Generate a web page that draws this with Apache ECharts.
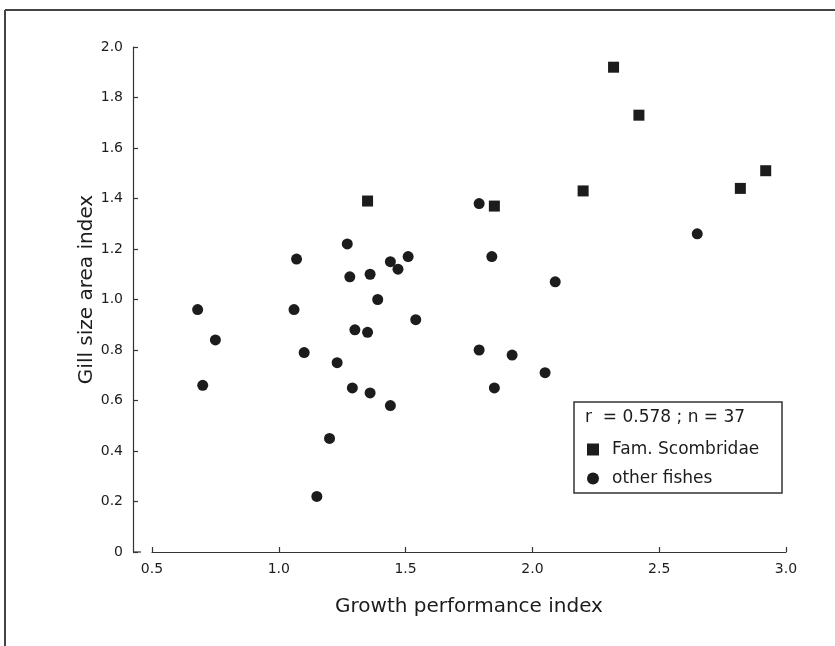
<!DOCTYPE html>
<html>
<head>
<meta charset="utf-8">
<title>Gill size vs growth performance</title>
<script src="https://cdn.jsdelivr.net/npm/echarts@6/dist/echarts.min.js"></script>
<style>
  html, body { margin: 0; padding: 0; background: #fff; }
  #chart { width: 835px; height: 646px; }
</style>
</head>
<body>
<div id="chart"></div>
<script>
// Fam. Scombridae  [growth performance, gill size area]
const scombridae = [
  [1.35, 1.39], [1.85, 1.37], [2.20, 1.43], [2.32, 1.92],
  [2.42, 1.73], [2.82, 1.44], [2.92, 1.51]
]

// other fishes
const otherFishes = [
  [0.68, 0.96], [0.75, 0.84], [0.70, 0.66],
  [1.06, 0.96], [1.07, 1.16], [1.10, 0.79], [1.15, 0.22], [1.20, 0.45],
  [1.23, 0.75], [1.27, 1.22], [1.28, 1.09], [1.29, 0.65], [1.30, 0.88],
  [1.35, 0.87], [1.36, 1.10], [1.36, 0.63], [1.39, 1.00], [1.44, 1.15],
  [1.44, 0.58], [1.47, 1.12], [1.51, 1.17], [1.54, 0.92],
  [1.79, 1.38], [1.79, 0.80], [1.84, 1.17], [1.85, 0.65], [1.92, 0.78],
  [2.05, 0.71], [2.09, 1.07], [2.65, 1.26]
]

const xTicks = [0.5, 1.0, 1.5, 2.0, 2.5, 3.0]
const yTicks = [0, 0.2, 0.4, 0.6, 0.8, 1.0, 1.2, 1.4, 1.6, 1.8, 2.0]
const statsText = 'r  = 0.578 ; n = 37'

const ink = '#1c1c1c'
const font = 'DejaVu Sans'

const chart = echarts.init(document.getElementById('chart'))

const option = {
  backgroundColor: '#fff',
  animation: false,
  textStyle: { fontFamily: font, color: ink },
  grid: { left: 152, right: 49, top: 47, bottom: 94 },
  xAxis: {
    type: 'value',
    min: xTicks[0],
    max: xTicks[xTicks.length - 1],
    interval: 0.5,
    name: 'Growth performance index',
    nameLocation: 'middle',
    nameGap: 45,
    nameTextStyle: { fontSize: 20, color: ink, fontFamily: font },
    axisLine: { lineStyle: { color: '#333', width: 1.2 } },
    axisTick: { inside: true, length: 5, lineStyle: { color: '#333', width: 1.2 } },
    axisLabel: {
      margin: 10,
      fontSize: 14,
      color: ink,
      formatter: v => v.toFixed(1)
    },
    splitLine: { show: false }
  },
  yAxis: {
    type: 'value',
    min: yTicks[0],
    max: yTicks[yTicks.length - 1],
    interval: 0.2,
    offset: 19,
    name: 'Gill size area index',
    nameLocation: 'middle',
    nameGap: 36,
    nameMoveOverlap: false,
    nameTextStyle: { fontSize: 20, color: ink, fontFamily: font, padding: [0, 0, 0, 20] },
    axisLine: { show: true, lineStyle: { color: '#333', width: 1.2 } },
    axisTick: { show: true, inside: true, length: 5, lineStyle: { color: '#333', width: 1.2 } },
    axisLabel: {
      margin: 10,
      fontSize: 14,
      color: ink,
      formatter: v => (v === 0 ? '0' : v.toFixed(1))
    },
    splitLine: { show: false }
  },
  legend: {
    orient: 'vertical',
    left: 582,
    top: 436,
    itemWidth: 12,
    itemHeight: 12,
    itemGap: 12,
    textStyle: { fontSize: 17, color: ink, fontFamily: font, padding: [0, 0, 0, 8] },
    data: [
      { name: 'Fam. Scombridae', icon: 'rect', itemStyle: { color: ink, opacity: 1 } },
      { name: 'other fishes', icon: 'circle', itemStyle: { color: ink, opacity: 1 } }
    ]
  },
  graphic: [
    // outer frame
    { type: 'line', shape: { x1: 5, y1: 10, x2: 835, y2: 10 }, style: { stroke: '#444', lineWidth: 2 } },
    { type: 'line', shape: { x1: 5, y1: 10, x2: 5, y2: 646 }, style: { stroke: '#444', lineWidth: 2 } },
    // short foot at the bottom of the y axis
    { type: 'line', shape: { x1: 133, y1: 552, x2: 141, y2: 552 }, style: { stroke: '#333', lineWidth: 1.2 } },
    // legend box
    { type: 'rect', shape: { x: 574, y: 402, width: 208, height: 91 }, style: { fill: 'none', stroke: '#333', lineWidth: 1.5 } },
    {
      type: 'text', left: 585, top: 409,
      style: { text: statsText, fontSize: 17, fill: ink, fontFamily: font }
    }
  ],
  series: [
    {
      name: 'Fam. Scombridae',
      type: 'scatter',
      symbol: 'rect',
      symbolSize: 11,
      itemStyle: { color: ink, opacity: 1 },
      data: scombridae
    },
    {
      name: 'other fishes',
      type: 'scatter',
      symbol: 'circle',
      symbolSize: 11,
      itemStyle: { color: ink, opacity: 1 },
      data: otherFishes
    }
  ]
}

chart.setOption(option)
</script>
</body>
</html>
